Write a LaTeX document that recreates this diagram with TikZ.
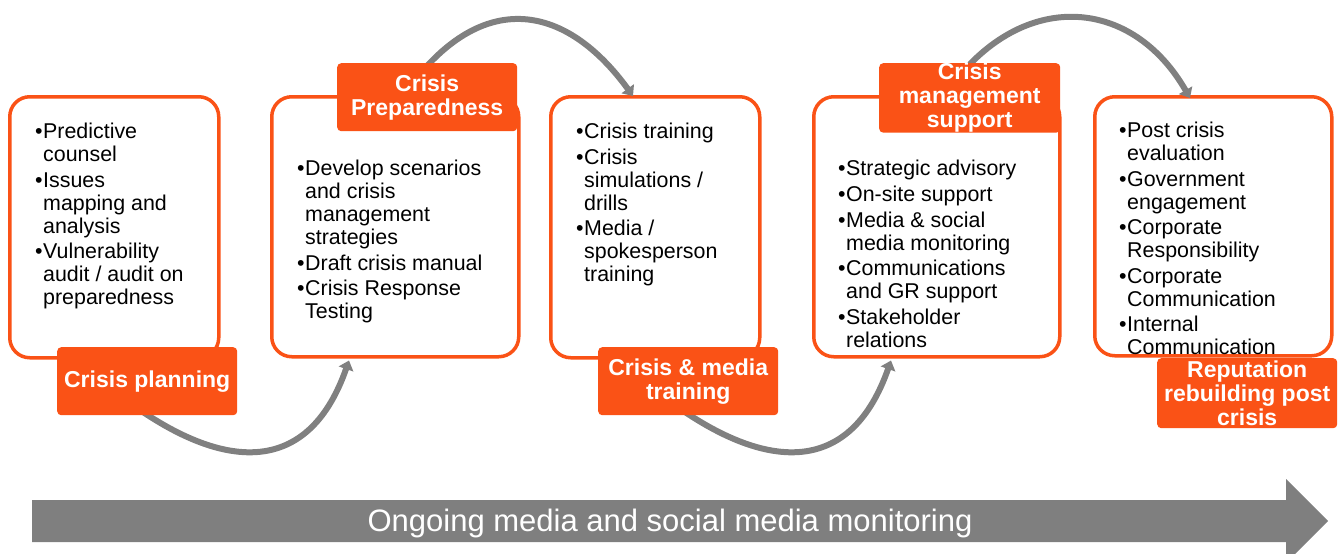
\documentclass[tikz,border=0pt]{standalone}
\usepackage{fontspec}
\setmainfont{Liberation Sans}
\usetikzlibrary{arrows.meta,calc}
\definecolor{orng}{RGB}{250,82,22}
\definecolor{arcgray}{RGB}{128,128,128}
\definecolor{bargray}{RGB}{127,127,127}
\newcommand{\myb}{\makebox[8pt][l]{\textbullet}}
\newcommand{\myi}{\hspace*{8pt}}
\begin{document}
\begin{tikzpicture}[x=1pt,y=-1pt,
  box/.style={draw=orng, line width=3.5pt, fill=white, rounded corners=20pt, anchor=north west, inner sep=0pt},
  lab/.style={fill=orng, rounded corners=4pt, anchor=north west, inner sep=0pt, text=white,
    font=\fontsize{23}{24}\selectfont\bfseries, align=center},
  txt/.style={anchor=north west, inner sep=0pt, align=left, font=\fontsize{21.4}{23}\selectfont},
  flow/.style={draw=arcgray, line width=6pt, -{Triangle[width=15pt,length=9pt]}}
]
\useasboundingbox (0,0) rectangle (1341,554);

% boxes
\node[box, minimum width=209pt, minimum height=261pt] (box1) at (8,95) {};
\node[box, minimum width=247pt, minimum height=260pt] (box2) at (270,95) {};
\node[box, minimum width=209pt, minimum height=261pt] (box3) at (549,95) {};
\node[box, minimum width=246pt, minimum height=260pt] (box4) at (812,95) {};
\node[box, minimum width=237pt, minimum height=259pt] (box5) at (1093,95) {};

% arcs
\coordinate (a1s) at (140,410);
\coordinate (a2s) at (415,80);
\coordinate (a3s) at (682,410);
\coordinate (a4s) at (956,80);
\draw[flow] (a1s) .. controls (231,472) and (310,472) .. ($(box2.south west)+(79,2)$);
\draw[flow] (a2s) .. controls (485.7,-8.9) and (565.7,3.7) .. ($(box3.north west)+(84,1)$);
\draw[flow] (a3s) .. controls (773,472) and (852,472) .. ($(box4.south west)+(79,2)$);
\draw[flow] (a4s) .. controls (1027.3,-9.7) and (1132.5,-2) .. ($(box5.north west)+(97,3)$);

% labels
\node[lab, minimum width=180pt, minimum height=68pt] (lab1) at (57,347) {Crisis planning};
\node[lab, minimum width=180pt, minimum height=68pt] (lab2) at (337,63) {Crisis\\Preparedness};
\node[lab, minimum width=180pt, minimum height=68pt] (lab3) at (598,347) {Crisis \& media\\training};
\node[lab, minimum width=181pt, minimum height=67pt] (lab4) at (879,63) {Crisis\\management\\support};
\node[lab, minimum width=180pt, minimum height=70pt] (lab5) at (1157,358) {Reputation\\rebuilding post\\crisis};

% texts
\node[txt] (t1) at (35,123) {\myb Predictive\\\myi counsel\\[2.5pt]\myb Issues\\\myi mapping and\\\myi analysis\\[2.5pt]\myb Vulnerability\\\myi audit / audit on\\\myi preparedness};
\node[txt] (t2) at (297,160) {\myb Develop scenarios\\\myi and crisis\\\myi management\\\myi strategies\\[2.5pt]\myb Draft crisis manual\\[2.5pt]\myb Crisis Response\\\myi Testing};
\node[txt] (t3) at (576,123) {\myb Crisis training\\[2.5pt]\myb Crisis\\\myi simulations /\\\myi drills\\[2.5pt]\myb Media /\\\myi spokesperson\\\myi training};
\node[txt] (t4) at (838,160) {\myb Strategic advisory\\[3pt]\myb On-site support\\[2.5pt]\myb Media \& social\\\myi media monitoring\\[2.5pt]\myb Communications\\\myi and GR support\\[2.5pt]\myb Stakeholder\\\myi relations};
\node[txt] (t5) at (1119,122) {\myb Post crisis\\\myi evaluation\\[2.5pt]\myb Government\\\myi engagement\\[2.5pt]\myb Corporate\\\myi Responsibility\\[2.5pt]\myb Corporate\\\myi Communication\\[2pt]\myb Internal\\\myi Communication};

% bottom arrow
\fill[bargray] (32,500) -- (1286,500) -- (1286,479) -- (1328,521) -- (1286,563) -- (1286,542) -- (32,542) -- cycle;
\node[text=white, font=\fontsize{31}{31}\selectfont, anchor=base, inner sep=0pt] (ongoing) at (670,531) {Ongoing media and social media monitoring};
\end{tikzpicture}
\end{document}
